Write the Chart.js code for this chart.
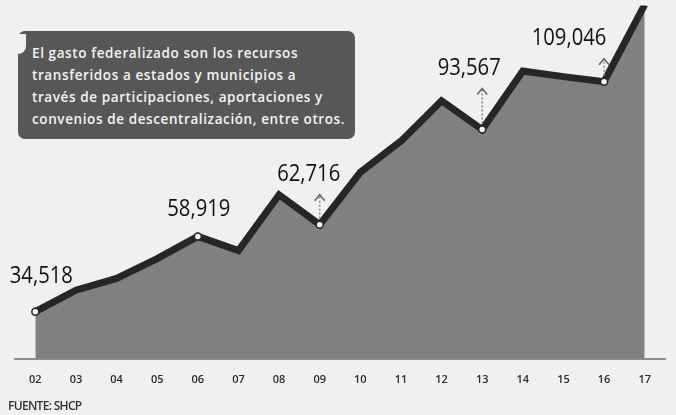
<!DOCTYPE html>
<html>
<head>
<meta charset="utf-8">
<script src="https://cdn.jsdelivr.net/npm/chart.js@4"></script>
<style>
  html, body { margin: 0; padding: 0; background: #f0f0ee; }
  #wrap { position: relative; width: 676px; height: 415px; overflow: hidden; }
  #chart { position: absolute; left: 0; top: 0; }
  #note {
    position: absolute; left: 18px; top: 31px; width: 337px; height: 108px;
    background: #575757; border-radius: 7px; box-sizing: border-box;
    padding: 11px 0 0 14px; color: #f4f4f4;
    font-family: "Open Sans", sans-serif; font-size: 13.5px; font-weight: 600;
    line-height: 22px; letter-spacing: 0.6px; white-space: nowrap;
  }
  #tab {
    position: absolute; left: 12px; top: 34px; width: 14px; height: 20px;
    background: #f0f0ee; border-radius: 0 0 8px 0;
  }
  #source {
    position: absolute; left: 8px; top: 397px;
    font-family: "Open Sans", sans-serif; font-size: 12px; color: #333;
    letter-spacing: -0.7px; font-weight: 600;
  }
</style>
</head>
<body>
<div id="wrap">
  <canvas id="chart" width="676" height="415"></canvas>
  <div id="note">El gasto federalizado son los recursos<br>transferidos a estados y municipios a<br>través de participaciones, aportaciones y<br>convenios de descentralización, entre otros.</div>
  <div id="tab"></div>
  <div id="source">FUENTE: SHCP</div>
</div>
<script>
// years (two-digit labels) and spending (millones de pesos)
const years = ['02','03','04','05','06','07','08','09','10','11','12','13','14','15','16','17'];
const gasto = [34518, 41500, 45300, 51700, 58919, 54300, 72400, 62716, 79700, 89800, 102900, 93567, 112500, 110700, 109046, 134000];
// which points carry a printed value
const labelled = [0, 4, 7, 11, 14];
// the ones with the little up-arrow
const arrowed = [7, 11, 14];

const fmt = v => v.toLocaleString('en-US');

// label tweaks: [dx, dy] from the point to the label's centre-bottom
const labelShift = {
  0: [6, -24],
  4: [1, -15],
  7: [-11, -39],
  11: [-13, -50],
  14: [-35, -32]
};

const valueLabels = {
  id: 'valueLabels',
  afterDatasetsDraw(chart) {
    const ctx = chart.ctx;
    const xs = chart.scales.x, ys = chart.scales.y;
    ctx.save();
    labelled.forEach(i => {
      const px = xs.getPixelForValue(i);
      const py = ys.getPixelForValue(gasto[i]);
      const [dx, dy] = labelShift[i];
      // arrow with dotted stem
      if (arrowed.includes(i)) {
        ctx.strokeStyle = '#8a8a8a';
        ctx.lineWidth = 1.5;
        ctx.setLineDash([2, 2]);
        ctx.beginPath();
        ctx.moveTo(px, py - 6);
        ctx.lineTo(px, py + dy + 10);
        ctx.stroke();
        ctx.setLineDash([]);
        ctx.strokeStyle = '#666';
        ctx.lineWidth = 1.6;
        ctx.beginPath();
        ctx.moveTo(px - 5, py + dy + 15);
        ctx.lineTo(px, py + dy + 9);
        ctx.lineTo(px + 5, py + dy + 15);
        ctx.stroke();
      }
      ctx.save();
      ctx.translate(px + dx, py + dy);
      ctx.scale(0.88, 1);
      ctx.fillStyle = '#111';
      ctx.font = '23px "Open Sans", sans-serif';
      ctx.textAlign = 'center';
      ctx.textBaseline = 'bottom';
      ctx.fillText(fmt(gasto[i]), 0, 0);
      ctx.restore();
    });
    ctx.restore();
  }
};

new Chart(document.getElementById('chart').getContext('2d'), {
  type: 'line',
  data: {
    labels: years,
    datasets: [{
      data: gasto,
      borderColor: '#262626',
      borderWidth: 7,
      borderJoinStyle: 'miter',
      backgroundColor: '#808080',
      fill: 'start',
      tension: 0,
      pointRadius: gasto.map((v, i) => labelled.includes(i) ? 3.5 : 0),
      pointBackgroundColor: '#f4f4f4',
      pointBorderColor: '#262626',
      pointBorderWidth: 1.5
    }]
  },
  options: {
    responsive: false,
    animation: false,
    layout: { padding: { left: 15, right: 11, top: 0, bottom: 23 } },
    scales: {
      x: {
        offset: true,
        grid: { display: false },
        border: { display: true, color: '#8c8c8c', width: 2 },
        ticks: {
          color: '#2a2a2a',
          padding: 6,
          font: { family: '"Open Sans", sans-serif', size: 11, weight: '600' }
        }
      },
      y: {
        display: false,
        min: 19250,
        max: 133750
      }
    },
    plugins: {
      legend: { display: false },
      tooltip: { enabled: false }
    }
  },
  plugins: [valueLabels]
});
</script>
</body>
</html>
